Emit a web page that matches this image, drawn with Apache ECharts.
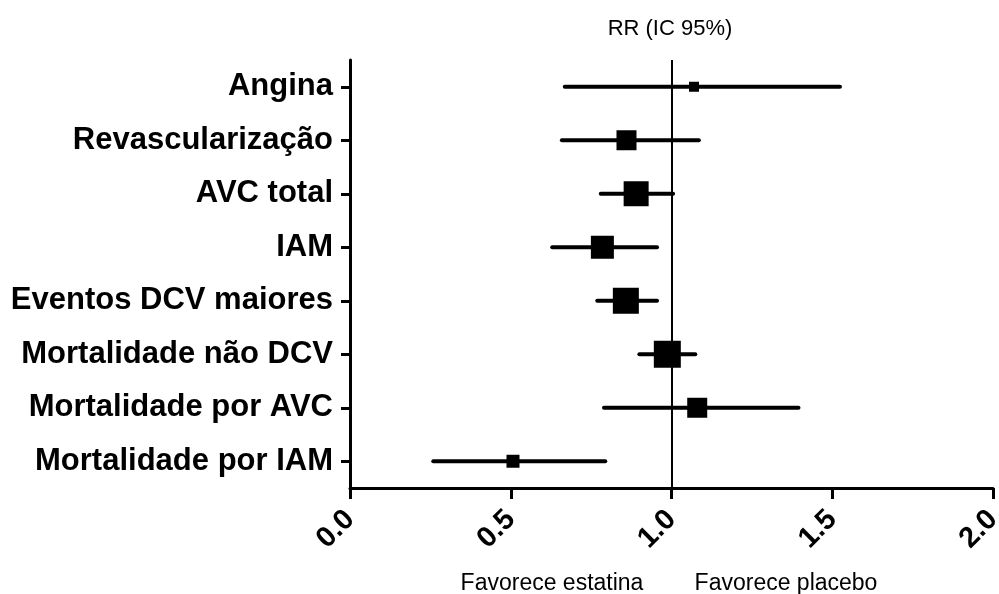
<!DOCTYPE html>
<html><head><meta charset="utf-8">
<script src="https://cdn.jsdelivr.net/npm/echarts@6/dist/echarts.min.js"></script>
<style>html,body{margin:0;padding:0;background:#fff}#c{width:999px;height:594px}</style>
</head><body><div id="c"></div>
<script>
const categories = ['Angina','Revascularização','AVC total','IAM','Eventos DCV maiores','Mortalidade não DCV','Mortalidade por AVC','Mortalidade por IAM'];
const rr    = [1.07, 0.86, 0.89, 0.785, 0.858, 0.987, 1.08, 0.507];
const lower = [0.668, 0.659, 0.78, 0.629, 0.769, 0.90, 0.79, 0.259];
const upper = [1.524, 1.085, 1.005, 0.955, 0.955, 1.074, 1.395, 0.794];
const weights = [10, 20, 25, 23, 26, 27, 20, 13];
const xTicks = ['0.0','0.5','1.0','1.5','2.0'];
const titleText = 'RR (IC 95%)';
const leftNote = 'Favorece estatina';
const rightNote = 'Favorece placebo';

const FONT = '"Liberation Sans", Arial, sans-serif';
const chart = echarts.init(document.getElementById('c'), null, {renderer:'canvas'});
chart.setOption({
  animation: false,
  backgroundColor: '#fff',
  grid: {left: 350, right: 6, top: 60, bottom: 106, containLabel: false, outerBoundsMode: 'none'},
  xAxis: {
    type: 'value', min: 0, max: 2, interval: 0.5,
    splitLine: {show: false},
    axisLine: {show: true, onZero: false, lineStyle: {color: '#000', width: 3}},
    axisTick: {show: true, length: 11, lineStyle: {color: '#000', width: 3}},
    axisLabel: {rotate: 45, margin: 27, color: '#000', fontSize: 29, fontWeight: 'bold', fontFamily: FONT,
      hideOverlap: false, formatter: v => xTicks[Math.round(v / 0.5)]}
  },
  yAxis: {
    type: 'category', data: categories, inverse: true,
    axisLine: {show: true, lineStyle: {color: '#000', width: 3}},
    axisTick: {show: true, alignWithLabel: true, length: 9, lineStyle: {color: '#000', width: 3}},
    axisLabel: {margin: 17, color: '#000', fontSize: 31, fontWeight: 'bold', fontFamily: FONT}
  },
  series: [
    {
      type: 'custom', z: 2,
      data: categories.map((c, i) => [lower[i], upper[i], i]),
      renderItem: (params, api) => {
        const p1 = api.coord([api.value(0), api.value(2)]);
        const p2 = api.coord([api.value(1), api.value(2)]);
        return {type: 'line', shape: {x1: p1[0], y1: p1[1], x2: p2[0], y2: p2[1]},
          style: {stroke: '#000', lineWidth: 4, lineCap: 'round'}};
      },
      markLine: {
        silent: true, symbol: 'none', label: {show: false},
        lineStyle: {color: '#000', width: 2, type: 'solid'},
        data: [{xAxis: 1}]
      }
    },
    {
      type: 'scatter', z: 3, symbol: 'rect',
      data: rr.map((v, i) => ({value: [v, i], symbolSize: weights[i]})),
      itemStyle: {color: '#000', opacity: 1}
    }
  ],
  graphic: [
    {type: 'text', x: 670, y: 29, style: {text: titleText, fill: '#000', font: '22px ' + FONT, textAlign: 'center', textVerticalAlign: 'middle'}},
    {type: 'text', x: 552, y: 584, style: {text: leftNote, fill: '#000', font: '23px ' + FONT, textAlign: 'center', textVerticalAlign: 'middle'}},
    {type: 'text', x: 786, y: 584, style: {text: rightNote, fill: '#000', font: '23px ' + FONT, textAlign: 'center', textVerticalAlign: 'middle'}}
  ]
});
</script>
</body></html>
